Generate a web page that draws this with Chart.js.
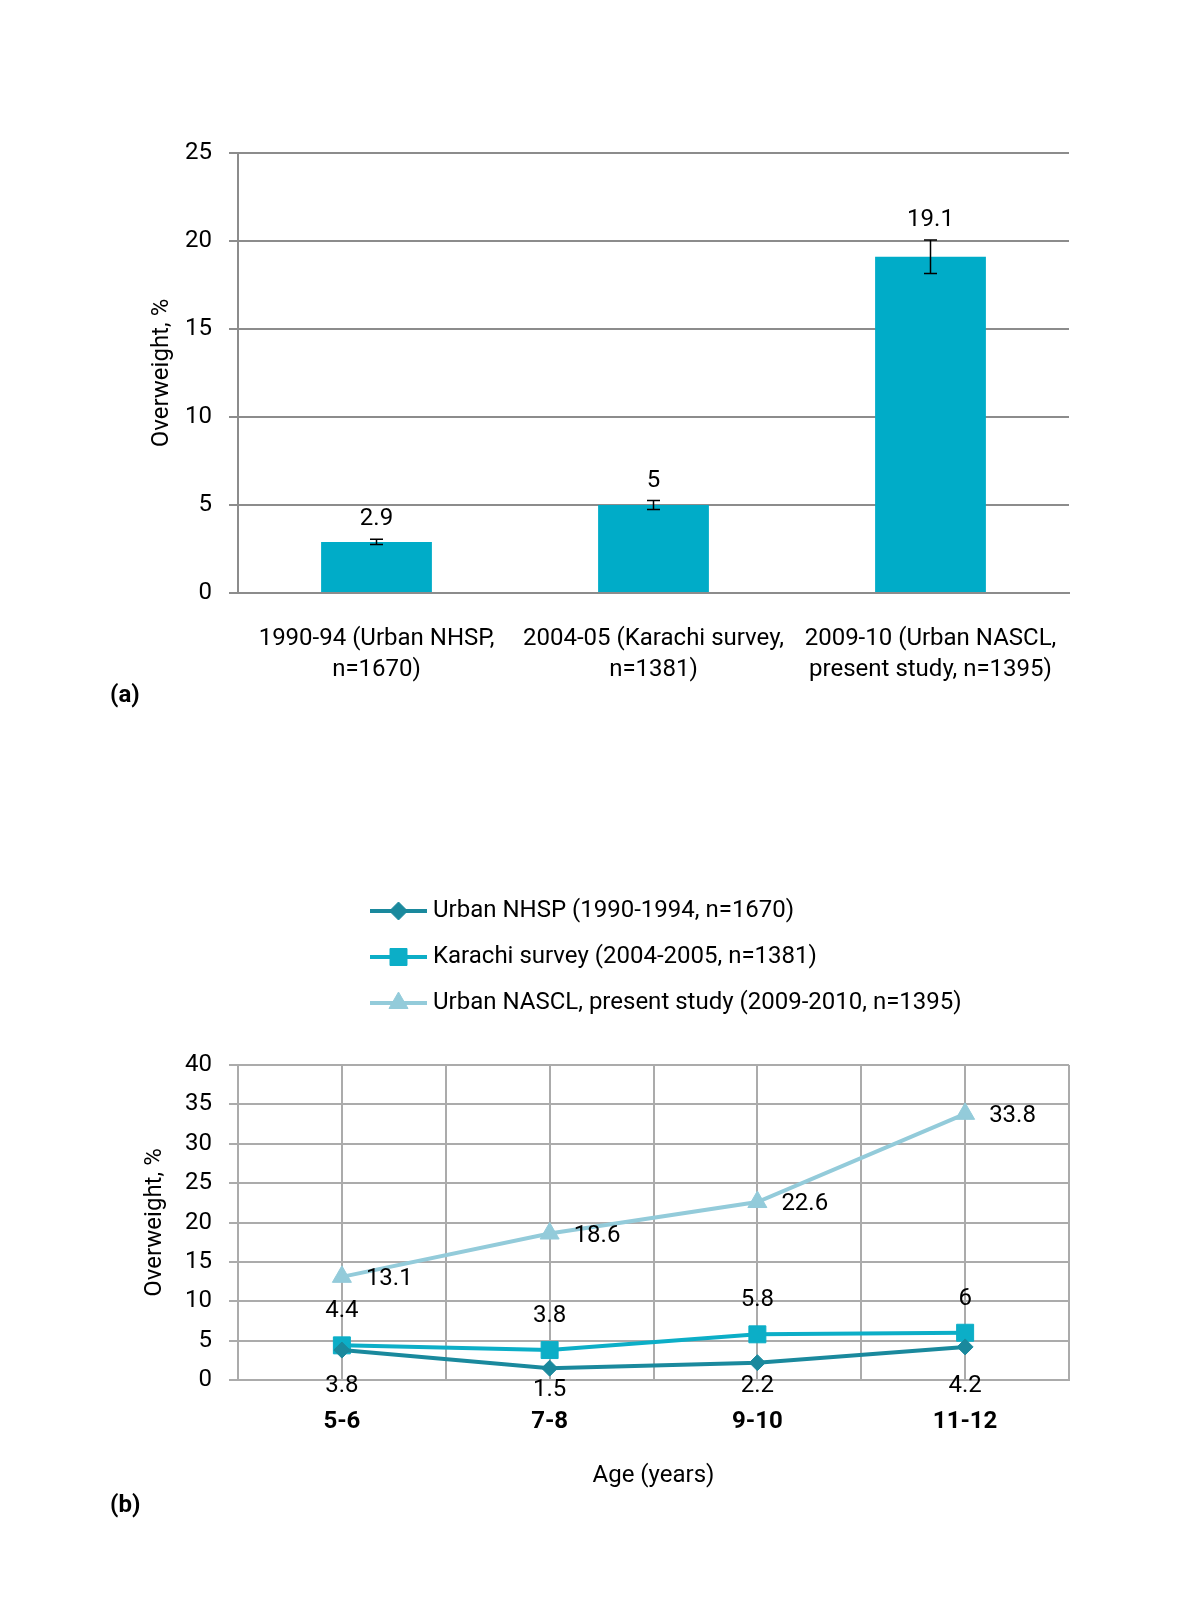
<!DOCTYPE html>
<html>
<head>
<meta charset="utf-8">
<script src="https://cdn.jsdelivr.net/npm/chart.js@4.4.1/dist/chart.umd.min.js"></script>
<style>
  html, body { margin: 0; padding: 0; background: #fff; }
  body { width: 1200px; height: 1600px; position: relative; font-family: Roboto, 'Liberation Sans', sans-serif; }
  .chart-box { position: absolute; left: 0; width: 1200px; }
  #boxA { top: 0; height: 720px; }
  #boxB { top: 860px; height: 640px; }
  .panel-tag { position: absolute; left: 110px; font-weight: bold; font-size: 24px; line-height: 30px; color: #000; }
</style>
</head>
<body>
<div class="chart-box" id="boxA"><canvas id="barChart"></canvas></div>
<div class="panel-tag" style="top:679px">(a)</div>
<div class="chart-box" id="boxB"><canvas id="lineChart"></canvas></div>
<div class="panel-tag" style="top:1489px">(b)</div>
<script>
// ===== Panel (a): overweight prevalence by survey =====
const surveyLabels = [
  ["1990-94 (Urban NHSP,", "n=1670)"],
  ["2004-05 (Karachi survey,", "n=1381)"],
  ["2009-10 (Urban NASCL,", "present study, n=1395)"]
];
const surveyValues = [2.9, 5, 19.1];
const surveyErrors = [0.15, 0.25, 0.95];

// ===== Panel (b): overweight by age group =====
const ageGroups = ["5-6", "7-8", "9-10", "11-12"];
const nhspValues = [3.8, 1.5, 2.2, 4.2];
const karachiValues = [4.4, 3.8, 5.8, 6];
const nasclValues = [13.1, 18.6, 22.6, 33.8];
const seriesNames = [
  "Urban NHSP (1990-1994, n=1670)",
  "Karachi survey (2004-2005, n=1381)",
  "Urban NASCL, present study (2009-2010, n=1395)"
];

const FONT = "Roboto, 'Liberation Sans', sans-serif";
const FSIZE = 24;
Chart.defaults.font.family = FONT;
Chart.defaults.font.size = FSIZE;
Chart.defaults.color = "#000";
Chart.defaults.animation = false;

// error bars + value labels on the bars
const errorBarPlugin = {
  id: "errorBars",
  afterDatasetsDraw(chart) {
    const { ctx } = chart;
    const y = chart.scales.y;
    const meta = chart.getDatasetMeta(0);
    ctx.save();
    ctx.strokeStyle = "#000";
    ctx.lineWidth = 1.5;
    ctx.fillStyle = "#000";
    ctx.font = FSIZE + "px " + FONT;
    ctx.textAlign = "center";
    ctx.textBaseline = "alphabetic";
    meta.data.forEach((bar, i) => {
      const v = surveyValues[i], e = surveyErrors[i];
      const top = y.getPixelForValue(v + e);
      const bot = y.getPixelForValue(v - e);
      ctx.beginPath();
      ctx.moveTo(bar.x, top); ctx.lineTo(bar.x, bot);
      ctx.moveTo(bar.x - 6.5, top); ctx.lineTo(bar.x + 6.5, top);
      ctx.moveTo(bar.x - 6.5, bot); ctx.lineTo(bar.x + 6.5, bot);
      ctx.stroke();
      ctx.fillText(String(v), bar.x, top - 14);
    });
    ctx.restore();
  }
};

// value labels next to the line points
const pointLabelPlugin = {
  id: "pointLabels",
  afterDatasetsDraw(chart) {
    const { ctx } = chart;
    const zeroY = chart.scales.y.getPixelForValue(0);
    ctx.save();
    ctx.font = FSIZE + "px " + FONT;
    ctx.fillStyle = "#000";
    ctx.textBaseline = "middle";
    chart.data.datasets.forEach((ds, di) => {
      chart.getDatasetMeta(di).data.forEach((pt, i) => {
        const text = String(ds.data[i]);
        if (ds.labelPos === "right") {
          ctx.textAlign = "left";
          ctx.fillText(text, pt.x + 24, pt.y + 2);
        } else if (ds.labelPos === "above") {
          ctx.textAlign = "center";
          ctx.fillText(text, pt.x, pt.y - 34);
        } else {
          ctx.textAlign = "center";
          ctx.fillText(text, pt.x, Math.max(pt.y + 22, zeroY + 6));
        }
      });
    });
    ctx.restore();
  }
};

// legend stacked one entry per row, like the original
const rowLegendPlugin = {
  id: "rowLegend",
  afterDraw(chart, args, opts) {
    const { ctx } = chart;
    ctx.save();
    chart.data.datasets.forEach((ds, i) => {
      const y = opts.top + i * opts.gap;
      const cx = opts.left + opts.lineLength / 2;
      ctx.strokeStyle = ds.borderColor;
      ctx.lineWidth = ds.borderWidth;
      ctx.beginPath();
      ctx.moveTo(opts.left, y);
      ctx.lineTo(opts.left + opts.lineLength, y);
      ctx.stroke();
      ctx.fillStyle = ds.pointBackgroundColor;
      ctx.strokeStyle = ds.pointBorderColor;
      ctx.lineWidth = 1;
      const r = ds.pointStyle === "rectRot" ? 9 : ds.pointRadius;
      Chart.helpers.drawPoint(ctx, { pointStyle: ds.pointStyle, radius: r, rotation: 0, borderWidth: 1 }, cx, y);
      ctx.fillStyle = "#000";
      ctx.font = FSIZE + "px " + FONT;
      ctx.textAlign = "left";
      ctx.textBaseline = "middle";
      ctx.fillText(ds.label, opts.left + opts.lineLength + opts.textGap, y);
    });
    ctx.restore();
  }
};

function createBarChart() {
  new Chart(document.getElementById("barChart"), {
    type: "bar",
    data: {
      labels: surveyLabels,
      datasets: [{
        data: surveyValues,
        backgroundColor: "#00acc8",
        barPercentage: 0.8,
        categoryPercentage: 0.5
      }]
    },
    options: {
      responsive: true,
      maintainAspectRatio: false,
      layout: { padding: { left: 138, right: 131, top: 153, bottom: 27 } },
      plugins: { legend: { display: false }, tooltip: { enabled: false } },
      scales: {
        x: {
          grid: { display: false },
          border: { color: "#8c8c8c", width: 2 },
          ticks: { padding: 23, maxRotation: 0, autoSkip: false, font: { size: FSIZE, lineHeight: 1.29 } },
          afterFit(s) { s.height = 100; }
        },
        y: {
          min: 0,
          max: 25,
          ticks: { stepSize: 5, padding: 17 },
          grid: { color: "#8c8c8c", lineWidth: 2, tickLength: 9 },
          border: { color: "#8c8c8c", width: 2 },
          title: { display: true, text: "Overweight, %", padding: { top: 10, bottom: 0 } },
          afterFit(s) { s.width = 100; }
        }
      }
    },
    plugins: [errorBarPlugin]
  });
}

function createLineChart() {
  const colors = ["#1a899d", "#0caec7", "#93cbda"];
  const styles = ["rectRot", "rect", "triangle"];
  const radii = [8, 12, 11];
  const labelPos = ["below", "above", "right"];
  const series = [nhspValues, karachiValues, nasclValues];

  new Chart(document.getElementById("lineChart"), {
    type: "line",
    data: {
      labels: ageGroups,
      datasets: series.map((vals, i) => ({
        label: seriesNames[i],
        data: vals,
        borderColor: colors[i],
        backgroundColor: colors[i],
        pointBackgroundColor: colors[i],
        pointBorderColor: colors[i],
        pointStyle: styles[i],
        pointRadius: radii[i],
        pointBorderWidth: 1,
        borderWidth: 4,
        tension: 0,
        labelPos: labelPos[i]
      }))
    },
    options: {
      responsive: true,
      maintainAspectRatio: false,
      layout: { padding: { left: 138, right: 131, top: 205, bottom: 10 } },
      plugins: {
        legend: { display: false },
        tooltip: { enabled: false },
        rowLegend: { left: 370, top: 51, gap: 46, lineLength: 57, textGap: 6 }
      },
      scales: {
        x: {
          offset: true,
          grid: { color: "#ababab", lineWidth: 2, drawTicks: false },
          border: { color: "#ababab", width: 2 },
          ticks: { padding: 27, font: { size: FSIZE, weight: "bold", lineHeight: 1.29 } },
          title: { display: true, text: "Age (years)", padding: { top: 0, bottom: 0 } },
          afterFit(s) { s.height = 110; }
        },
        x2: {
          type: "category",
          position: "bottom",
          offset: true,
          grid: { offset: true, color: "#ababab", lineWidth: 2, drawTicks: false },
          border: { display: false },
          ticks: { display: false },
          afterFit(s) { s.height = 0; }
        },
        y: {
          min: 0,
          max: 40,
          ticks: { stepSize: 5, padding: 17 },
          grid: { color: "#ababab", lineWidth: 2, tickLength: 9 },
          border: { color: "#ababab", width: 2 },
          title: { display: true, text: "Overweight, %", padding: { top: 3, bottom: 0 } },
          afterFit(s) { s.width = 100; }
        }
      }
    },
    plugins: [pointLabelPlugin, rowLegendPlugin]
  });
}

document.addEventListener("DOMContentLoaded", () => {
  createBarChart();
  createLineChart();
});
</script>
</body>
</html>
